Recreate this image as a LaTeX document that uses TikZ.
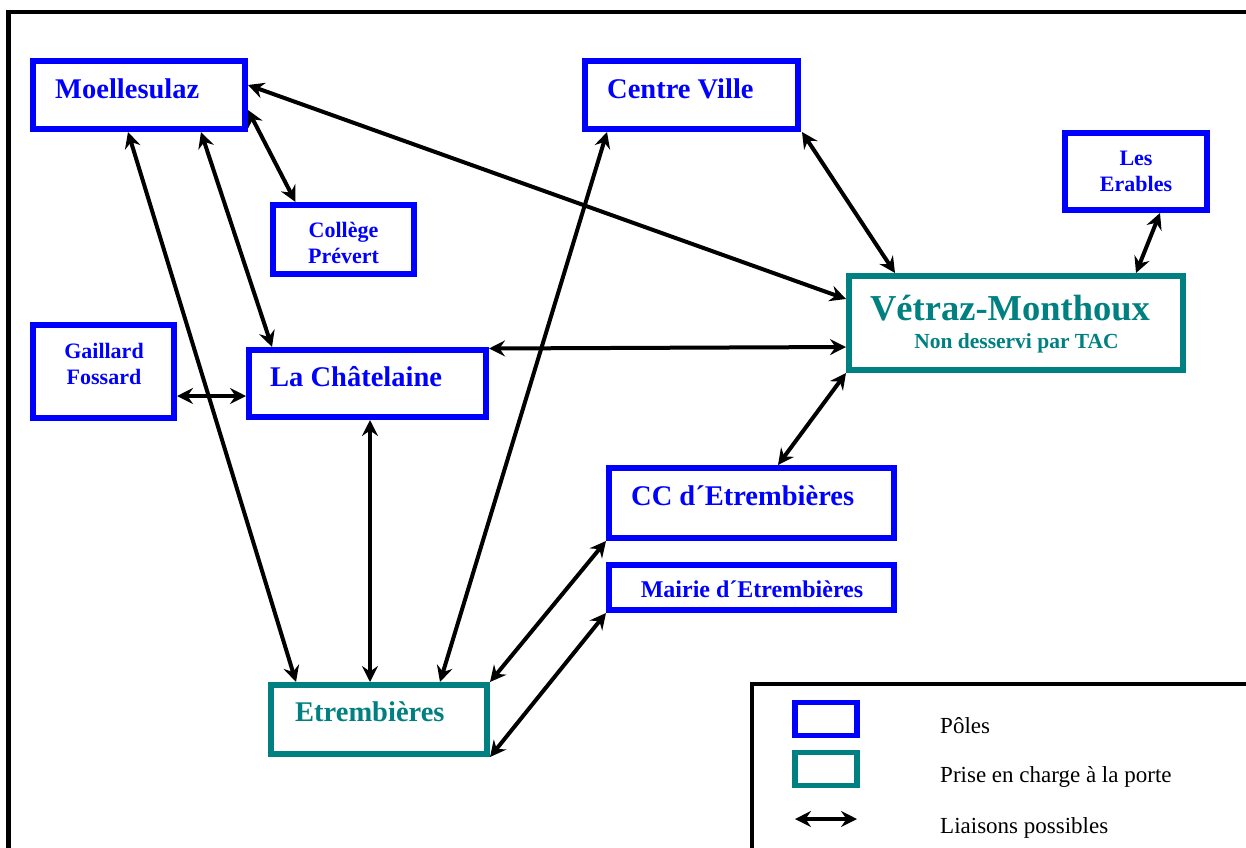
\documentclass[tikz,border=0pt]{standalone}
\usepackage{fontspec}
\setmainfont{Liberation Serif}
\usetikzlibrary{arrows.meta,calc}
\definecolor{poleblue}{RGB}{0,0,255}
\definecolor{portteal}{RGB}{0,128,128}
\begin{document}
\begin{tikzpicture}[x=1pt,y=-1pt,
  polebox/.style={draw=poleblue, line width=6pt, rectangle, inner sep=0pt},
  doorbox/.style={draw=portteal, line width=6pt, rectangle, inner sep=0pt},
  bigtext/.style={inner sep=0pt, font=\bfseries\fontsize{28.5}{32}\selectfont},
  smalltext/.style={inner sep=0pt, align=center, font=\bfseries\fontsize{22}{26}\selectfont},
  legtext/.style={inner sep=0pt, anchor=base west, font=\fontsize{23}{26}\selectfont},
  link/.style={{Stealth[length=16pt,width=16pt,inset=5.5pt]}-{Stealth[length=16pt,width=16pt,inset=5.5pt]}, line width=4pt},
  frame/.style={draw=black, line width=4.5pt}
]
\useasboundingbox (0,0) rectangle (1246,847);
\clip (0,0) rectangle (1246,847);
% outer frame
\draw[frame] (8.5,900) -- (8.5,12) -- (1300,12);

% boxes
\node[polebox, minimum width=212pt, minimum height=68pt] (moel) at (139,95) {};
\node[polebox, minimum width=213pt, minimum height=68pt] (centre) at (691.5,95) {};
\node[polebox, minimum width=141pt, minimum height=69pt] (college) at (343.5,239.5) {};
\node[polebox, minimum width=142pt, minimum height=77pt] (erables) at (1136,171.5) {};
\node[polebox, minimum width=141pt, minimum height=93pt] (gaillard) at (103.5,371.5) {};
\node[polebox, minimum width=237pt, minimum height=67pt] (chat) at (367.5,383.5) {};
\node[doorbox, minimum width=334pt, minimum height=94pt] (vetraz) at (1016,323) {};
\node[polebox, minimum width=285pt, minimum height=70pt] (cc) at (751.5,503) {};
\node[polebox, minimum width=285pt, minimum height=45pt] (mairie) at (751.5,587.5) {};
\node[doorbox, minimum width=216pt, minimum height=69pt] (etr) at (379,719.5) {};

% texts
\node[bigtext, text=poleblue, anchor=base west] (moelt) at (55,98) {Moellesulaz};
\node[bigtext, text=poleblue, anchor=base west] (centret) at (607,98) {Centre Ville};
\node[smalltext, text=poleblue] (colleget) at (343.5,243) {Collège\\Prévert};
\node[smalltext, text=poleblue] (erablest) at (1136,171.5) {Les\\Erables};
\node[smalltext, text=poleblue] (gaillardt) at (104,364) {Gaillard\\Fossard};
\node[bigtext, text=poleblue, anchor=base west] (chatt) at (270,386) {La Châtelaine};
\node[inner sep=0pt, text=portteal, anchor=base, font=\bfseries\fontsize{36.5}{40}\selectfont] (vetrazt) at (1010,320) {Vétraz-Monthoux};
\node[inner sep=0pt, text=portteal, anchor=base, font=\bfseries\fontsize{21.5}{24}\selectfont] (vetrazs) at (1016.5,348) {Non desservi par TAC};
\node[bigtext, text=poleblue, anchor=base west] (cct) at (631,505) {CC d´Etrembières};
\node[inner sep=0pt, text=poleblue, anchor=base, font=\bfseries\fontsize{24}{27}\selectfont] (mairiet) at (752,597) {Mairie d´Etrembières};
\node[bigtext, text=portteal, anchor=base west] (etrt) at (295,721) {Etrembières};

% links
\draw[link] ($(moel.east)+(0,-10)$) -- ($(vetraz.west)+(0,-24)$);
\draw[link] ($(moel.east)+(0,15)$) -- ($(college.north)+(-48,0)$);
\draw[link] ($(moel.south)+(-11,0)$) -- ($(etr.north)+(-83,0)$);
\draw[link] ($(moel.south)+(62,0)$) -- ($(chat.north)+(-95.5,0)$);
\draw[link] ($(centre.south)+(-84.5,0)$) -- ($(etr.north)+(61,0)$);
\draw[link] ($(centre.south)+(110.5,0)$) -- ($(vetraz.north)+(-121,0)$);
\draw[link] ($(erables.south)+(24,0)$) -- ($(vetraz.north)+(120,0)$);
\draw[link] ($(gaillard.east)+(0,24.5)$) -- ($(chat.west)+(0,12.5)$);
\draw[link] ($(chat.east)+(0,-35)$) -- ($(vetraz.west)+(0,24)$);
\draw[link] ($(chat.south)+(2.5,0)$) -- ($(etr.north)+(-9,0)$);
\draw[link] (vetraz.south west) -- ($(cc.north)+(26.5,0)$);
\draw[link] (cc.south west) -- (etr.north east);
\draw[link] (mairie.south west) -- (etr.south east);

% legend
\draw[draw=black, line width=4pt] (752,900) -- (752,684) -- (1300,684);
\node[draw=poleblue, line width=5.5pt, inner sep=0pt, minimum width=62pt, minimum height=33pt] (legpole) at (826,719) {};
\node[draw=portteal, line width=5.5pt, inner sep=0pt, minimum width=62pt, minimum height=33pt] (legdoor) at (826,769) {};
\coordinate (legA) at (795,819);
\coordinate (legB) at (857,819);
\draw[link] (legA) -- (legB);
\node[legtext] (legpolet) at (940,733) {Pôles};
\node[legtext] (legdoort) at (940,782) {Prise en charge à la porte};
\node[legtext] (leglinkt) at (940,833) {Liaisons possibles};
\end{tikzpicture}
\end{document}
